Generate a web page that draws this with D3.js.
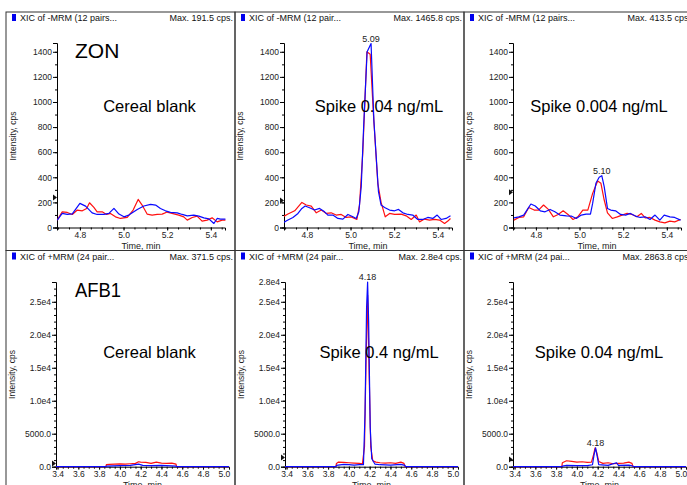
<!DOCTYPE html>
<html lang="en">
<head>
<meta charset="UTF-8">
<title>XIC chromatograms - ZON and AFB1</title>
<script src="https://d3js.org/d3.v7.min.js"></script>
<style>
  body { margin: 0; background: #fff; }
  svg { display: block; font-family: "Liberation Sans", Arial, sans-serif; }
  svg text { font-family: "Liberation Sans", Arial, sans-serif; }
  .tick text { font-size: 8.5px; fill: #222; }
</style>
</head>
<body>
<svg width="687" height="485"></svg>
<script>
// ---- data: [time (min), intensity (cps)] ----
const zonBlankRed = [[4.696,59],[4.719,125],[4.742,120],[4.765,104],[4.788,139],[4.811,133],[4.831,152],[4.844,197],[4.864,160],[4.879,125],[4.902,125],[4.922,104],[4.940,112],[4.963,85],[4.986,72],[5.017,80],[5.044,139],[5.067,224],[5.085,179],[5.108,107],[5.131,99],[5.154,104],[5.177,107],[5.200,123],[5.231,109],[5.253,99],[5.276,85],[5.292,59],[5.315,80],[5.337,91],[5.360,51],[5.383,59],[5.406,77],[5.429,45],[5.452,59],[5.467,59]];
const zonBlankBlue = [[4.696,59],[4.719,112],[4.742,104],[4.765,109],[4.800,192],[4.826,170],[4.856,117],[4.879,104],[4.910,104],[4.933,112],[4.956,152],[4.979,107],[5.002,85],[5.024,99],[5.063,144],[5.093,171],[5.124,184],[5.147,179],[5.169,152],[5.192,133],[5.215,120],[5.246,117],[5.269,104],[5.292,93],[5.322,99],[5.345,91],[5.368,77],[5.391,69],[5.414,32],[5.429,72],[5.444,67],[5.467,67]];

const zonSpike1Red = [[4.690,85],[4.713,107],[4.744,133],[4.777,200],[4.797,179],[4.820,171],[4.843,117],[4.866,139],[4.889,112],[4.911,117],[4.934,99],[4.957,104],[4.980,80],[5.003,85],[5.029,64],[5.041,179],[5.056,592],[5.075,1400],[5.090,1380],[5.105,900],[5.125,350],[5.140,200],[5.159,85],[5.179,112],[5.202,104],[5.232,107],[5.255,93],[5.278,64],[5.301,99],[5.316,45],[5.339,67],[5.362,59],[5.385,64],[5.408,59],[5.431,32],[5.446,51],[5.458,72]];
const zonSpike1Blue = [[4.690,37],[4.713,59],[4.736,80],[4.759,112],[4.777,152],[4.792,171],[4.812,157],[4.835,139],[4.858,152],[4.881,125],[4.896,99],[4.919,99],[4.942,72],[4.965,67],[4.988,104],[5.011,85],[5.026,72],[5.038,125],[5.049,325],[5.060,800],[5.076,1400],[5.094,1466],[5.107,850],[5.128,285],[5.140,179],[5.156,160],[5.179,139],[5.202,133],[5.220,144],[5.240,117],[5.263,104],[5.285,99],[5.308,64],[5.331,64],[5.354,80],[5.377,72],[5.397,99],[5.415,64],[5.438,72],[5.458,93]];

const zonSpike2Red = [[4.699,59],[4.722,80],[4.744,85],[4.767,160],[4.792,139],[4.812,139],[4.835,179],[4.857,144],[4.880,85],[4.902,104],[4.925,133],[4.947,104],[4.970,64],[4.992,85],[5.015,139],[5.038,139],[5.060,272],[5.083,371],[5.098,352],[5.113,219],[5.128,117],[5.150,72],[5.173,85],[5.195,99],[5.218,112],[5.241,104],[5.263,85],[5.283,112],[5.301,77],[5.323,80],[5.346,59],[5.368,45],[5.391,37],[5.414,51],[5.436,45],[5.463,64]];
const zonSpike2Blue = [[4.699,77],[4.722,85],[4.744,99],[4.759,139],[4.777,187],[4.797,171],[4.820,133],[4.842,125],[4.865,144],[4.887,125],[4.910,99],[4.940,93],[4.962,91],[4.985,72],[5.008,99],[5.030,107],[5.050,107],[5.060,192],[5.075,352],[5.090,400],[5.102,413],[5.113,325],[5.128,152],[5.143,139],[5.165,133],[5.188,104],[5.211,99],[5.233,112],[5.256,91],[5.278,80],[5.301,85],[5.323,64],[5.346,99],[5.368,59],[5.388,99],[5.414,85],[5.436,80],[5.463,59]];

const afbBlankRed = [[3.385,0],[3.865,0],[3.87,300],[3.90,350],[3.95,400],[4.00,420],[4.05,380],[4.10,450],[4.15,500],[4.18,750],[4.20,700],[4.25,650],[4.30,500],[4.35,700],[4.40,550],[4.45,500],[4.50,550],[4.54,400],[4.545,0],[5.05,0]];
const afbBlankBlue = [[3.385,0],[3.865,0],[3.87,100],[4.00,150],[4.10,200],[4.18,400],[4.22,200],[4.30,150],[4.40,200],[4.54,100],[4.545,0],[5.05,0]];

const afbSpike1Red = [[3.385,0],[3.875,0],[3.88,500],[3.90,700],[3.95,650],[4.00,600],[4.05,550],[4.10,500],[4.13,450],[4.15,3000],[4.165,16000],[4.18,26000],[4.195,14000],[4.21,3000],[4.23,900],[4.26,700],[4.30,600],[4.35,550],[4.40,600],[4.45,500],[4.50,700],[4.53,500],[4.54,0],[5.05,0]];
const afbSpike1Blue = [[3.385,0],[3.875,0],[3.88,200],[3.95,350],[4.00,300],[4.05,250],[4.10,300],[4.14,300],[4.155,8000],[4.17,24000],[4.18,28000],[4.19,22000],[4.205,6000],[4.22,1200],[4.25,400],[4.30,300],[4.40,250],[4.50,350],[4.54,200],[4.545,0],[5.05,0]];

const afbSpike2Red = [[3.385,0],[3.855,0],[3.86,600],[3.90,900],[3.95,800],[4.00,700],[4.05,750],[4.10,650],[4.14,700],[4.16,1800],[4.175,2850],[4.19,2200],[4.21,800],[4.25,500],[4.30,600],[4.35,450],[4.40,500],[4.45,550],[4.50,700],[4.53,500],[4.54,0],[5.05,0]];
const afbSpike2Blue = [[3.385,0],[3.855,0],[3.86,100],[3.90,200],[4.00,150],[4.10,150],[4.15,300],[4.165,1800],[4.18,2864],[4.195,1600],[4.21,300],[4.30,200],[4.38,600],[4.40,200],[4.50,250],[4.54,100],[4.545,0],[5.05,0]];

const headers = ["XIC of -MRM (12 pairs...", "XIC of -MRM (12 pair...", "XIC of -MRM (12 pairs...",
                 "XIC of +MRM (24 pair...", "XIC of +MRM (24 pair...", "XIC of +MRM (24 pai..."];
const maxTexts = ["Max. 191.5 cps.", "Max. 1465.8 cps.", "Max. 413.5 cps.",
                  "Max. 371.5 cps.", "Max. 2.8e4 cps.", "Max. 2863.8 cps."];
const compounds = ["ZON", "", "", "AFB1", "", ""];
const samples = ["Cereal blank", "Spike 0.04 ng/mL", "Spike 0.004 ng/mL",
                 "Cereal blank", "Spike 0.4 ng/mL", "Spike 0.04 ng/mL"];
const peakLabels = [null, {t: 5.094, v: 1466, text: "5.09"}, {t: 5.102, v: 413, text: "5.10"},
                    null, {t: 4.18, v: 28000, text: "4.18"}, {t: 4.18, v: 2864, text: "4.18"}];
const markers = [240, 216, 280, 480, 1390, 1090];

const zonTicks = [0, 200, 400, 600, 800, 1000, 1200, 1400];
const afbTicks = [0, 5000, 10000, 15000, 20000, 25000];
const zonTimeTicks = [4.8, 5.0, 5.2, 5.4];
const afbTimeTicks = [3.4, 3.6, 3.8, 4.0, 4.2, 4.4, 4.6, 4.8, 5.0];

const series = [
  [zonBlankRed, zonBlankBlue], [zonSpike1Red, zonSpike1Blue], [zonSpike2Red, zonSpike2Blue],
  [afbBlankRed, afbBlankBlue], [afbSpike1Red, afbSpike1Blue], [afbSpike2Red, afbSpike2Blue]
];

// ---- layout ----
const svg = d3.select("svg");
svg.append("rect").attr("width", 687).attr("height", 485).attr("fill", "#fff");

const panelX = [6, 235, 464];
const panelY = [12, 250.5];
const panelW = 229, panelH = 238.5;
const plotLeft = [[51, 49, 49], [50, 50, 49]];

const afbFmt = d => d === 0 ? "0.0" : d === 5000 ? "5000.0" : (d / 1e4).toFixed(1) + "e4";

// d3 axes put font-family="sans-serif" on their group; drop it so the page font applies
function cleanAxis(a) {
  a.attr("font-family", null).attr("font-size", null);
  a.select(".domain").attr("stroke", "#000");
}

series.forEach((pair, i) => {
  const row = Math.floor(i / 3), col = i % 3;
  const px = panelX[col], py = panelY[row];
  const g = svg.append("g").attr("transform", `translate(${px},${py})`);

  g.append("rect").attr("x", 0).attr("y", 0).attr("width", panelW).attr("height", panelH)
    .attr("fill", "none").attr("stroke", "#333").attr("stroke-width", 1);

  // header
  g.append("rect").attr("x", 6).attr("y", 2).attr("width", 4).attr("height", 7).attr("fill", "#0000ee");
  g.append("text").attr("x", 14).attr("y", 9).attr("font-size", 9).attr("fill", "#111").text(headers[i]);
  g.append("text").attr("x", panelW - 2).attr("y", 9).attr("font-size", 9).attr("fill", "#111")
    .attr("text-anchor", "end").text(maxTexts[i]);

  const left = plotLeft[row][col];
  const isZon = row === 0;
  const width = isZon ? 168 : 173;
  const x = d3.scaleLinear()
    .domain(isZon ? [4.695, 5.465] : [3.385, 5.05])
    .range([left, left + width]);
  const y = d3.scaleLinear()
    .domain(isZon ? [0, 1470] : [0, 28000])
    .range(isZon ? [215.5, 31] : [216.2, 31.5]);

  // minor ticks
  const yMinor = isZon ? d3.range(0, 1470, 100) : d3.range(0, 28000, 1000);
  g.append("g").attr("transform", `translate(${left},0)`)
    .call(d3.axisLeft(y).tickValues(yMinor).tickSize(2).tickFormat(""))
    .call(a => a.select(".domain").remove());
  const xMinor = isZon ? d3.range(4.70, 5.465, 0.05) : d3.range(3.40, 5.05, 0.05);
  g.append("g").attr("transform", `translate(0,${y(0)})`)
    .call(d3.axisBottom(x).tickValues(xMinor).tickSize(2).tickFormat(""))
    .call(a => a.select(".domain").remove());

  // axes
  let yTicks = isZon ? zonTicks : afbTicks;
  if (i === 4) yTicks = yTicks.concat([28000]);
  g.append("g").attr("transform", `translate(${left},0)`)
    .call(d3.axisLeft(y).tickValues(yTicks).tickSizeOuter(0).tickSize(4).tickPadding(1)
      .tickFormat(d => isZon ? d3.format("d")(d) : (d === 28000 ? "2.8e4" : afbFmt(d))))
    .call(cleanAxis);
  g.append("g").attr("transform", `translate(0,${y(0)})`)
    .call(d3.axisBottom(x).tickValues(isZon ? zonTimeTicks : afbTimeTicks).tickSizeOuter(0).tickSize(3).tickPadding(1)
      .tickFormat(d3.format(".1f")))
    .call(cleanAxis);

  g.append("text").attr("x", left + width / 2).attr("y", y(0) + 21)
    .attr("text-anchor", "middle").attr("font-size", 9).attr("fill", "#222").text("Time, min");
  g.append("text").attr("transform", `translate(${left - 41},${124}) rotate(-90)`)
    .attr("text-anchor", "middle").attr("font-size", 8.5).attr("fill", "#222").text("Intensity, cps");

  // traces
  const line = d3.line().x(d => x(d[0])).y(d => y(d[1]));
  const clipId = "clip" + i;
  g.append("clipPath").attr("id", clipId).append("rect")
    .attr("x", left).attr("y", 25).attr("width", panelW - left).attr("height", y(0) - 24);
  const tg = g.append("g").attr("clip-path", `url(#${clipId})`);
  tg.append("path").datum(pair[0]).attr("d", line).attr("fill", "none")
    .attr("stroke", "#ff1010").attr("stroke-width", 1.2).attr("stroke-linejoin", "round");
  tg.append("path").datum(pair[1]).attr("d", line).attr("fill", "none")
    .attr("stroke", "#0a0aff").attr("stroke-width", 1.2).attr("stroke-linejoin", "round");

  // threshold marker
  const my = y(markers[i]);
  g.append("path").attr("d", `M${left - 4},${my - 3}L${left},${my}L${left - 4},${my + 3}Z`).attr("fill", "#111");

  // peak label
  const pk = peakLabels[i];
  if (pk) {
    g.append("text").attr("x", x(pk.t)).attr("y", y(pk.v) - 2).attr("text-anchor", "middle")
      .attr("font-size", 9).attr("fill", "#222").text(pk.text);
  }

  // annotations
  if (compounds[i]) {
    const ct = g.append("text").attr("x", 69).attr("y", 46.3).attr("font-size", 21).attr("fill", "#000").text(compounds[i]);
    if (compounds[i] === "AFB1") ct.attr("textLength", 46).attr("lengthAdjust", "spacingAndGlyphs");
  }
  const sampleCx = [143.5, 144, 135][col];
  g.append("text").attr("x", sampleCx).attr("y", isZon ? 99.7 : 107.8).attr("text-anchor", "middle")
    .attr("font-size", 16.5).attr("fill", "#000").text(samples[i]);
});
</script>
</body>
</html>
